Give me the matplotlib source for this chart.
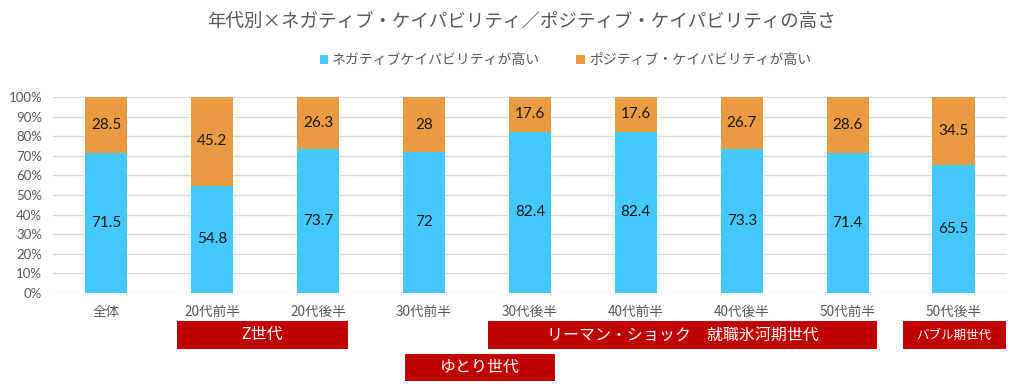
import matplotlib.pyplot as plt
import numpy as np
from matplotlib.patches import Rectangle

plt.rcParams['font.family'] = ['Noto Sans CJK JP', 'DejaVu Sans']

# Data
categories = ['全体', '20代前半', '20代後半', '30代前半', '30代後半',
              '40代前半', '40代後半', '50代前半', '50代後半']
negative = [71.5, 54.8, 73.7, 72, 82.4, 82.4, 73.3, 71.4, 65.5]
positive = [28.5, 45.2, 26.3, 28, 17.6, 17.6, 26.7, 28.6, 34.5]
series_names = ['ネガティブケイパビリティが高い', 'ポジティブ・ケイパビリティが高い']

# generation groups: label, first category, last category, row
groups = [('Z世代', 1, 2, 0),
          ('ゆとり世代', 3, 4, 1),
          ('リーマン・ショック　就職氷河期世代', 4, 7, 0),
          ('バブル期世代', 8, 8, 0)]
# box edges relative to the first/last category centre
box_pad = {'Z世代': (-0.33, 0.28),
           'ゆとり世代': (-0.18, 0.24),
           'リーマン・ショック　就職氷河期世代': (-0.4, 0.28),
           'バブル期世代': (-0.48, 0.49)}

blue = '#45C8FF'
orange = '#EA9B41'
red = '#C00000'
text_gray = '#595959'

fig = plt.figure(figsize=(10.24, 3.9), dpi=100)
ax = fig.add_axes([0.052, 0.249, 0.931, 0.502])

x = np.arange(len(categories))
w = 0.4
ax.bar(x, negative, w, color=blue, label=series_names[0], zorder=3)
ax.bar(x, positive, w, bottom=negative, color=orange, label=series_names[1], zorder=3)

for i in range(len(categories)):
    ax.text(x[i], negative[i] / 2, f'{negative[i]:g}', ha='center', va='center',
            fontsize=11, family='Lato', color='#1a1a1a', zorder=4)
    ax.text(x[i], negative[i] + positive[i] / 2, f'{positive[i]:g}', ha='center',
            va='center', fontsize=11, family='Lato', color='#1a1a1a', zorder=4)

ax.set_xlim(-0.5, len(categories) - 0.5)
ax.set_ylim(0, 100)
ax.set_yticks(np.arange(0, 101, 10))
ax.set_yticklabels([f'{v}%' for v in range(0, 101, 10)], family='Lato',
                   fontsize=9.5, color=text_gray)
ax.set_xticks(x)
ax.set_xticklabels(categories, fontsize=9.8, color=text_gray)
ax.tick_params(length=0, pad=8)
ax.tick_params(axis='x', pad=9)
ax.grid(axis='y', color='#D9D9D9', linewidth=1, zorder=0)
for s in ax.spines.values():
    s.set_visible(False)

# generation boxes under the axis
row_y = [-0.145, -0.31]
box_h = 0.14
trans = ax.get_xaxis_transform()
for label, a, b, row in groups:
    x0 = a + box_pad[label][0]
    x1 = b + box_pad[label][1]
    y0 = row_y[row] - box_h
    ax.add_patch(Rectangle((x0, y0), x1 - x0, box_h, transform=trans,
                           facecolor=red, edgecolor='none', clip_on=False))
    ax.text((x0 + x1) / 2, y0 + box_h / 2, label, transform=trans,
            ha='center', va='center', color='white',
            fontsize=9 if label == 'バブル期世代' else 11.5)

fig.text(0.509, 0.945, '年代別×ネガティブ・ケイパビリティ／ポジティブ・ケイパビリティの高さ',
         ha='center', va='center', fontsize=13.3, color=text_gray)
fig.legend(loc='center', bbox_to_anchor=(0.552, 0.845), ncol=2, frameon=False,
           fontsize=10, handlelength=0.6, handleheight=0.6, columnspacing=2.6,
           handletextpad=0.3, labelcolor=text_gray)

fig.savefig('out.png', dpi=100)
